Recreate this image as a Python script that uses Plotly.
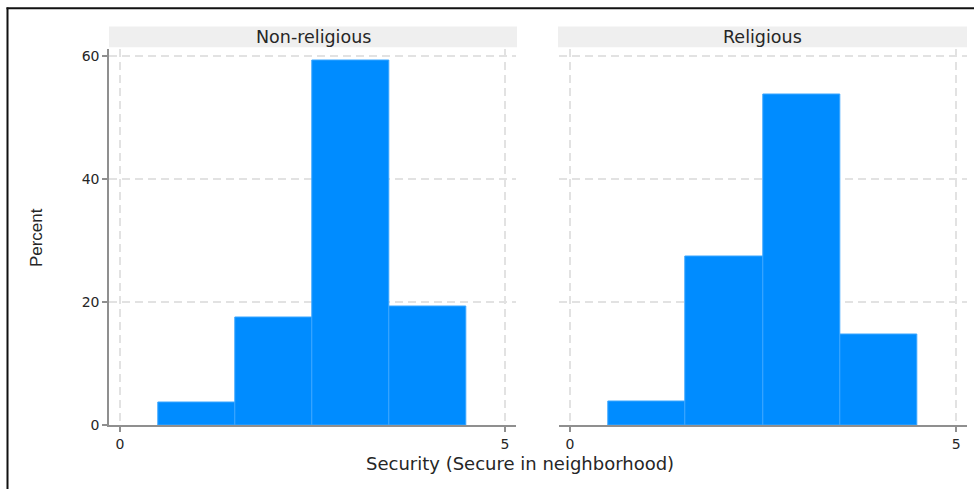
import plotly.graph_objects as go

# Histogram of "Secure in neighborhood" by religiosity (percent per category)
categories = [1, 2, 3, 4]
nonreligious_pct = [3.6, 17.5, 59.3, 19.3]
religious_pct = [3.8, 27.4, 53.8, 14.8]
panel_titles = ["Non-religious", "Religious"]
y_ticks = [0, 20, 40, 60]
x_ticks = [0, 5]

W, H = 974, 497
BAR = "#008cff"
BAR_EDGE = "#3aa6ff"
AXIS = "#8f8f8f"
GRID = "#e2e2e2"
TXT = "#262626"
FONT = "DejaVu Sans"


def px(x):
    return x / W


def py(y):
    return 1 - y / H


fig = go.Figure()

for i, vals in enumerate([nonreligious_pct, religious_pct]):
    fig.add_trace(go.Bar(
        x=categories, y=vals, width=1,
        marker=dict(color=BAR, line=dict(color=BAR_EDGE, width=1)),
        xaxis="x" if i == 0 else "x2",
        yaxis="y" if i == 0 else "y2",
        showlegend=False, hoverinfo="x+y",
    ))

x_range = [-0.137, 5.145]
y_range = [0, 61.3]
y_dom = [py(432), py(49.3)]

common_x = dict(
    range=x_range, tickvals=x_ticks, ticks="outside", ticklen=5, tickwidth=1.5,
    tickcolor=AXIS, showline=True, linecolor=AXIS, linewidth=1.5,
    showgrid=True, gridcolor=GRID, gridwidth=1.5, griddash="8px,5px",
    zeroline=False, tickfont=dict(family=FONT, size=14, color=TXT),
    fixedrange=True,
)
common_y = dict(
    range=y_range, tickvals=y_ticks, domain=y_dom,
    showgrid=True, gridcolor=GRID, gridwidth=1.5, griddash="8px,5px",
    zeroline=False, fixedrange=True,
)

fig.update_layout(
    width=W, height=H,
    margin=dict(l=0, r=0, t=0, b=0),
    paper_bgcolor="white", plot_bgcolor="white",
    bargap=0,
    xaxis=dict(domain=[px(109.3), px(516)], anchor="y", **common_x),
    xaxis2=dict(domain=[px(559.3), px(967.3)], anchor="y2", **common_x),
    yaxis=dict(anchor="x", ticks="outside", ticklen=5, tickwidth=1.5,
               tickcolor=AXIS, showline=True, linecolor=AXIS, linewidth=2,
               tickfont=dict(family=FONT, size=14, color=TXT), **common_y),
    yaxis2=dict(anchor="x2", showticklabels=False, ticks="", showline=False,
                **common_y),
)

shapes = []
annotations = []
# panel header strips
for (x0, x1), title in zip([(109, 517), (558, 967)], panel_titles):
    shapes.append(dict(type="rect", xref="paper", yref="paper",
                       x0=px(x0), x1=px(x1), y0=py(48), y1=py(27),
                       fillcolor="#efefef", line=dict(width=0), layer="below"))
    annotations.append(dict(text=title, xref="paper", yref="paper",
                            x=px((x0 + x1) / 2), y=py(38), xanchor="center",
                            yanchor="middle", showarrow=False,
                            font=dict(family=FONT, size=17.5, color=TXT)))

# outer frame (left and top edges)
shapes.append(dict(type="line", xref="paper", yref="paper",
                   x0=px(7.5), x1=px(7.5), y0=0, y1=py(7.5),
                   line=dict(color="#111111", width=2)))
shapes.append(dict(type="line", xref="paper", yref="paper",
                   x0=px(6.5), x1=1, y0=py(8.5), y1=py(8.5),
                   line=dict(color="#111111", width=2)))

annotations.append(dict(text="Security (Secure in neighborhood)", xref="paper",
                        yref="paper", x=px(520), y=py(471), xanchor="center",
                        yanchor="middle", showarrow=False,
                        font=dict(family=FONT, size=18, color=TXT)))
annotations.append(dict(text="Percent", xref="paper", yref="paper",
                        x=px(36), y=py(242), xanchor="center", yanchor="middle",
                        textangle=-90, showarrow=False,
                        font=dict(family="Liberation Sans", size=17, color=TXT)))

fig.update_layout(shapes=shapes, annotations=annotations)

fig.write_html("out.html")
